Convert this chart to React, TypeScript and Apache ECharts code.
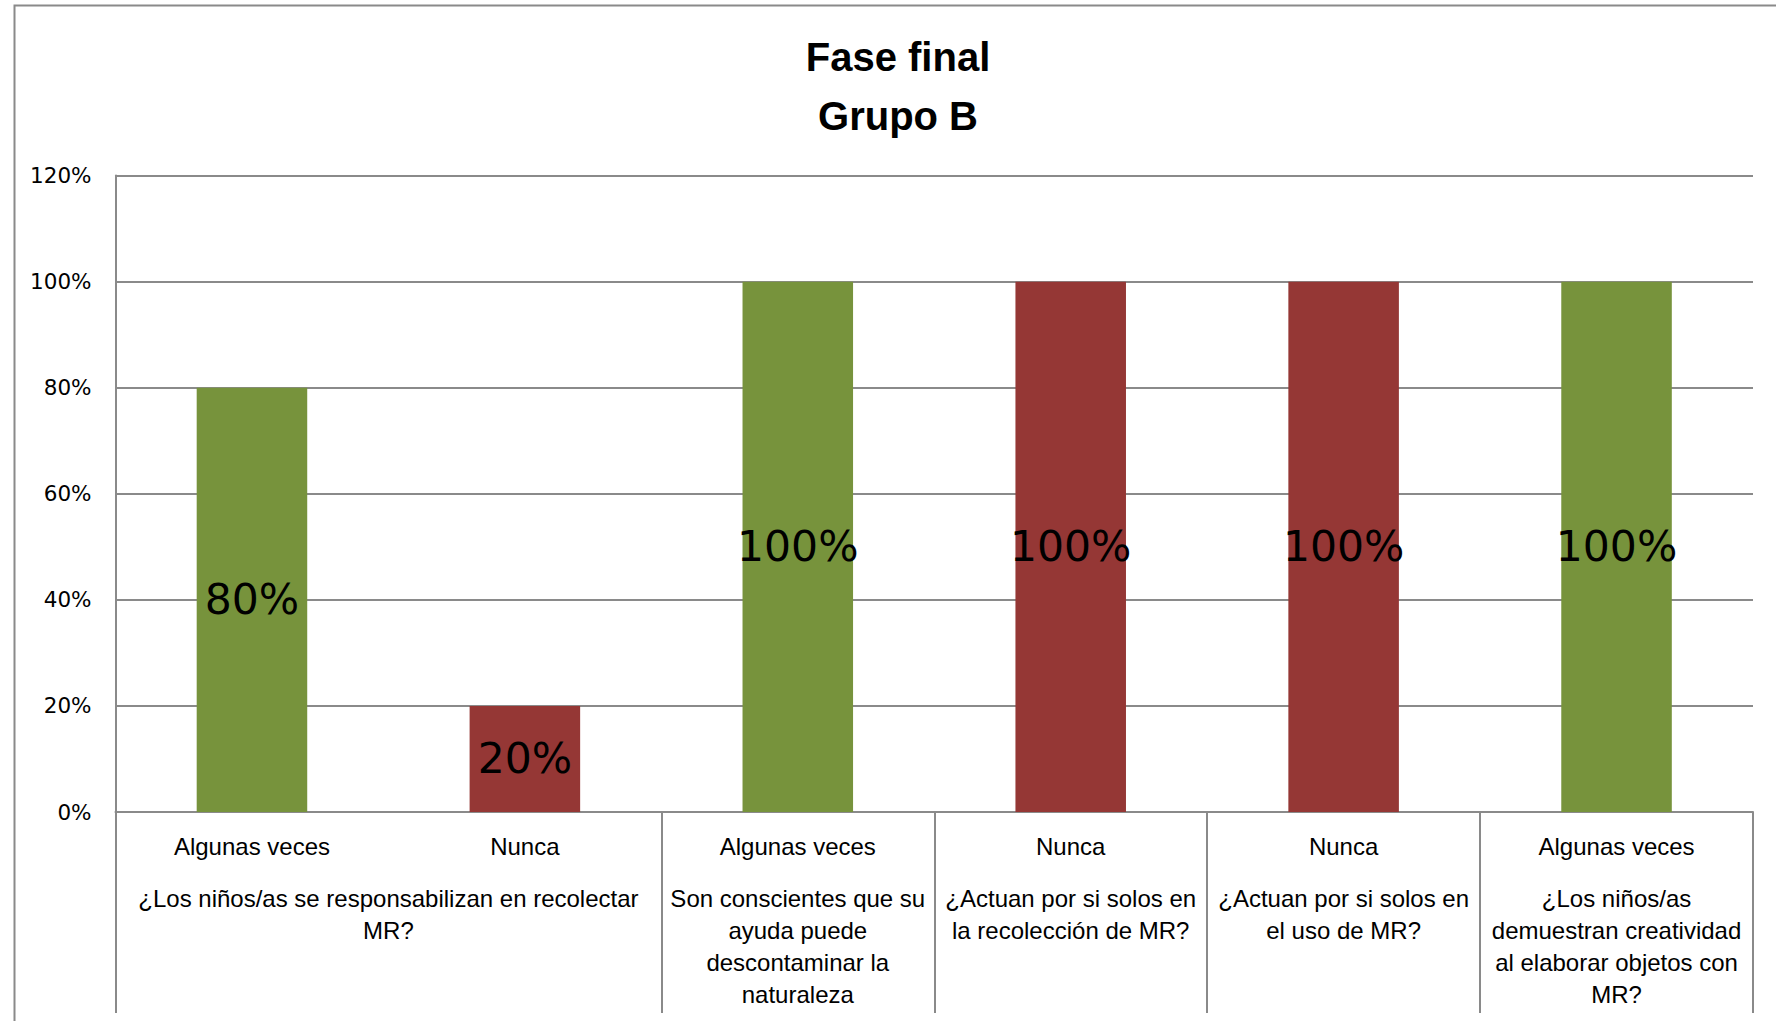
import React, { useEffect, useRef } from "react";
import * as echarts from "echarts";

const answers = ["Algunas veces", "Nunca", "Algunas veces", "Nunca", "Nunca", "Algunas veces"];
const values = [80, 20, 100, 100, 100, 100];
const barColors = ["#77933C", "#953735", "#77933C", "#953735", "#953735", "#77933C"];
const questionLabels = [
  "¿Los niños/as se responsabilizan en recolectar\nMR?",
  "Son conscientes que su\nayuda puede\ndescontaminar la\nnaturaleza",
  "¿Actuan por si solos en\nla recolección de MR?",
  "¿Actuan por si solos en\nel uso de MR?",
  "¿Los niños/as\ndemuestran creatividad\nal elaborar objetos con\nMR?",
];
// centre of each question group and the group boundaries, in category units
const questionCenters = [1, 2.5, 3.5, 4.5, 5.5];
const questionBounds = [0, 2, 3, 4, 5, 6];
const yTicks = [0, 20, 40, 60, 80, 100, 120];

const GRAY = "#8a8a8a";
const FONT = "'Liberation Sans', Arial, sans-serif";
const NUMFONT = "'DejaVu Sans', Verdana, sans-serif";

export default function App() {
  const ref = useRef<HTMLDivElement>(null);
  useEffect(() => {
    const chart = echarts.init(ref.current!, null, { renderer: "svg" });
    chart.setOption({
      animation: false,
      backgroundColor: "#ffffff",
      graphic: [
        {
          type: "rect",
          shape: { x: 14.5, y: 5.5, width: 1800, height: 1100 },
          style: { fill: "none", stroke: GRAY, lineWidth: 2 },
          silent: true,
        },
        {
          type: "text",
          x: 898,
          y: 86,
          style: {
            text: "Fase final\nGrupo B",
            fontFamily: FONT,
            fontWeight: "bold",
            fontSize: 40,
            lineHeight: 59,
            fill: "#000",
            textAlign: "center",
            textVerticalAlign: "middle",
          },
        },
      ],
      grid: { left: 115.5, right: 23, top: 175.6, bottom: 209, containLabel: false },
      xAxis: [
        {
          type: "category",
          data: answers,
          position: "bottom",
          axisLine: { show: true, lineStyle: { color: GRAY, width: 2 } },
          axisTick: { show: false },
          axisLabel: {
            interval: 0,
            margin: 18,
            fontFamily: FONT,
            fontSize: 24,
            lineHeight: 32,
            color: "#000",
          },
        },
        {
          type: "value",
          min: 0,
          max: 6,
          position: "bottom",
          axisLine: { show: false },
          splitLine: { show: false },
          axisTick: {
            show: true,
            customValues: questionBounds,
            length: 201,
            lineStyle: { color: GRAY, width: 2 },
          },
          axisLabel: {
            customValues: questionCenters,
            margin: 70,
            fontFamily: FONT,
            fontSize: 24,
            lineHeight: 32,
            color: "#000",
            align: "center",
            formatter: (v: number) => {
              const i = questionCenters.indexOf(v);
              return i >= 0 ? questionLabels[i] : "";
            },
          },
        },
      ],
      yAxis: {
        type: "value",
        min: yTicks[0],
        max: yTicks[yTicks.length - 1],
        interval: 20,
        axisLine: { show: true, lineStyle: { color: GRAY, width: 2 } },
        axisTick: { show: false },
        splitLine: { show: true, lineStyle: { color: GRAY, width: 2 } },
        axisLabel: {
          margin: 24,
          fontFamily: NUMFONT,
          fontSize: 21.5,
          color: "#000",
          formatter: "{value}%",
        },
      },
      series: [
        {
          type: "bar",
          xAxisIndex: 0,
          barWidth: "40.5%",
          data: values.map((v, i) => ({ value: v, itemStyle: { color: barColors[i] } })),
          label: {
            show: true,
            position: "inside",
            formatter: "{c}%",
            fontFamily: NUMFONT,
            fontSize: 42.5,
            color: "#000",
          },
        },
      ],
    });
    return () => chart.dispose();
  }, []);
  return (
    <div
      ref={ref}
      style={{ position: "absolute", left: 0, top: 0, width: 1776, height: 1021 }}
    />
  );
}
